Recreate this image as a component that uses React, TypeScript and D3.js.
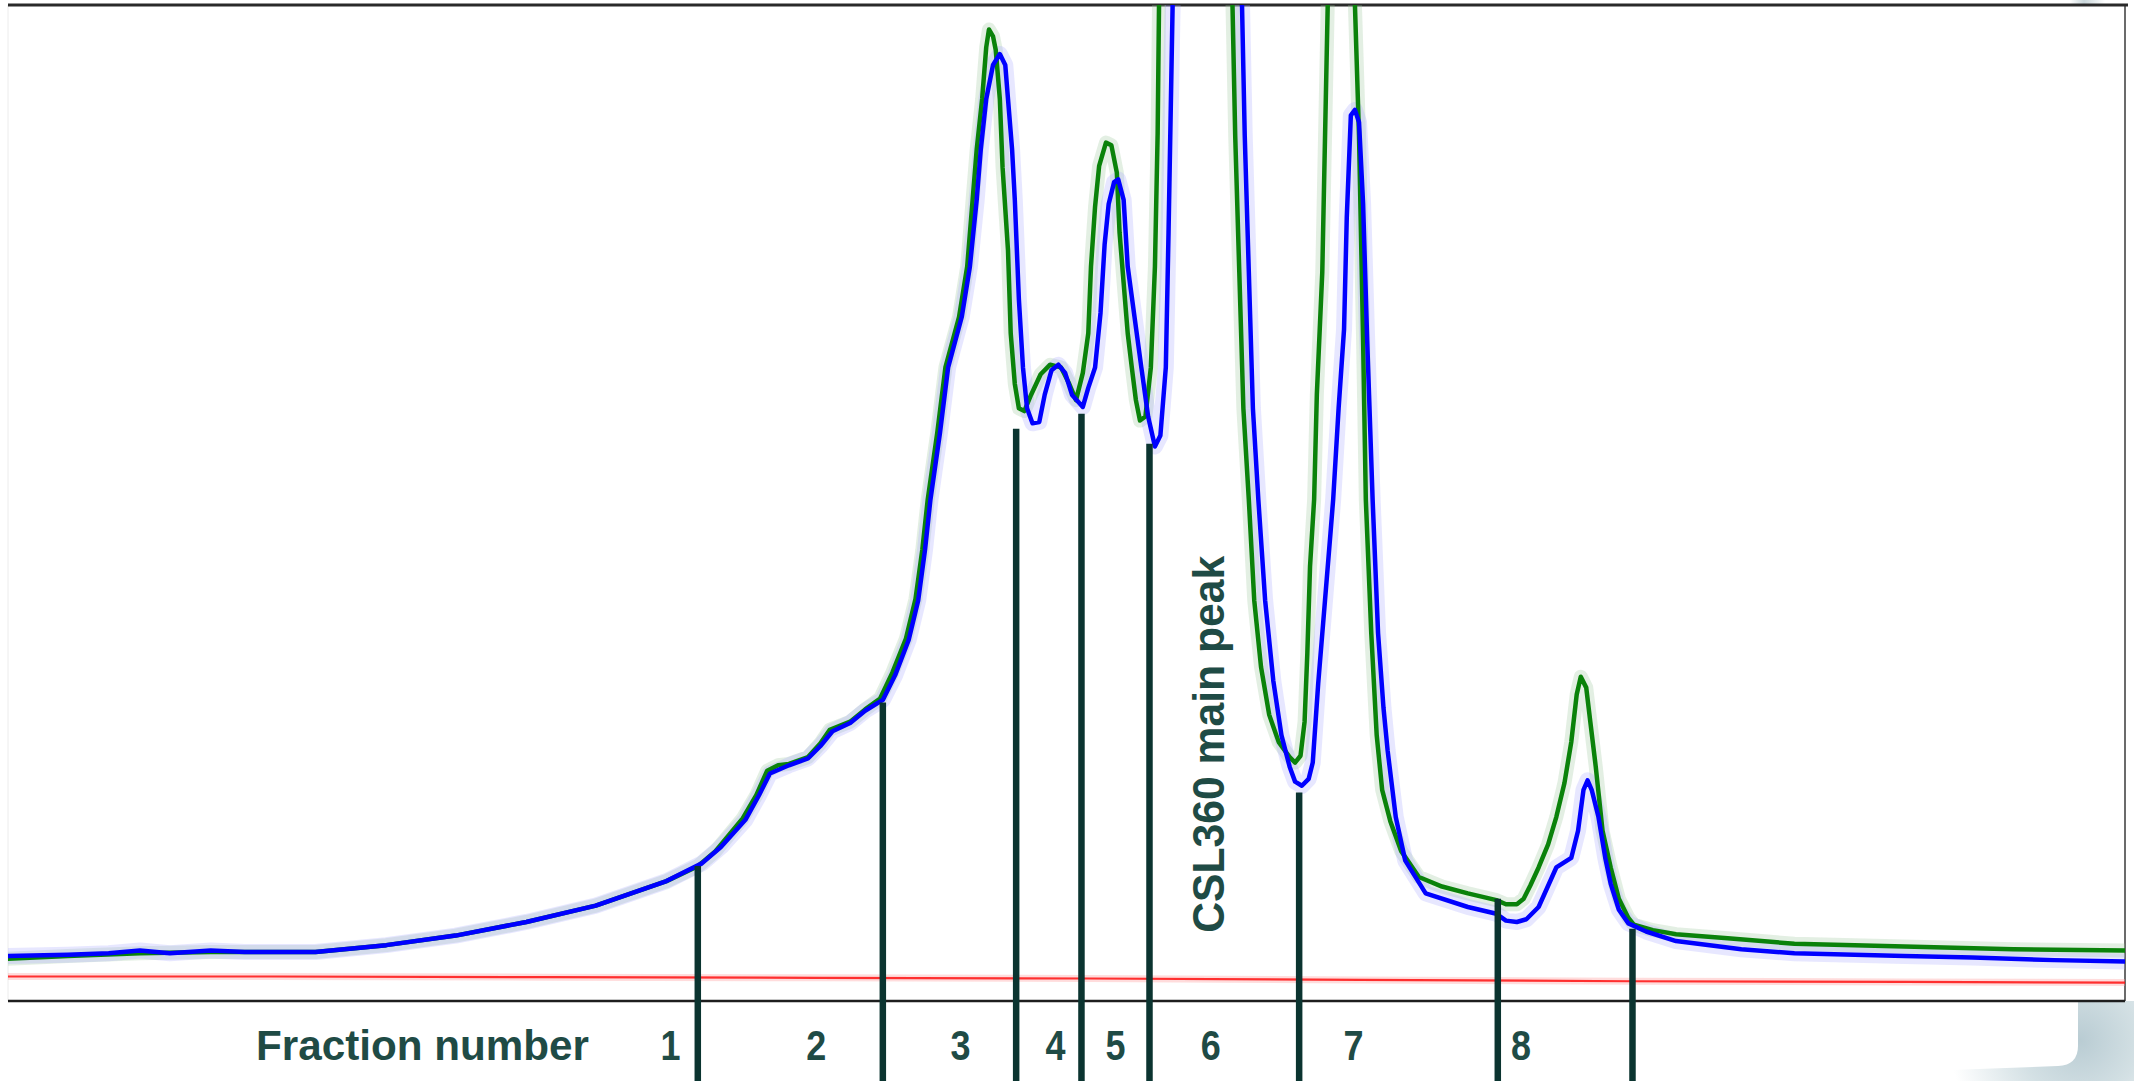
import * as d3 from "d3";
import React from "react";

// chromatogram traces, [elution time (arb. units), signal (arb. units)]
const greenTrace: [number, number][] = [
  [6, 31], [50, 33], [103, 35], [155, 36], [232, 36], [284, 41], [335, 48], [387, 58],
  [438, 70], [490, 88], [513, 99], [526, 110], [546, 134], [556, 151], [564, 169], [572, 173],
  [580, 174], [594, 179], [603, 189], [610, 199], [625, 205], [636, 214], [647, 222], [656, 241],
  [666, 266], [673, 295], [678, 331], [682, 368], [689, 417], [695, 465], [705, 502], [711, 539],
  [715, 588], [718, 625], [722, 662], [725, 700], [727, 713], [730, 708], [732, 698], [735, 662],
  [737, 612], [741, 551], [743, 490], [746, 453], [749, 435], [753, 433], [758, 445], [765, 460],
  [772, 467], [780, 465], [786, 453], [791, 441], [796, 461], [800, 490], [802, 539], [805, 583],
  [808, 613], [813, 630], [817, 628], [821, 608], [823, 564], [826, 527], [829, 490], [832, 465],
  [835, 441], [838, 426], [842, 429], [846, 465], [849, 539], [851, 637], [852, 731], [880, 1600],
  [906, 731], [908, 635], [911, 535], [914, 435], [918, 368], [922, 294], [927, 245], [933, 210],
  [940, 190], [948, 179], [952, 175], [956, 180], [959, 205], [961, 255], [963, 319], [966, 368],
  [968, 445], [972, 535], [976, 731], [987, 1100], [996, 731], [999, 635], [1002, 485], [1004, 368],
  [1008, 270], [1012, 195], [1016, 155], [1022, 132], [1030, 110], [1043, 91], [1060, 84], [1079, 79],
  [1100, 74], [1107, 71], [1115, 71], [1120, 75], [1125, 85], [1131, 98], [1138, 115], [1144, 135],
  [1150, 160], [1155, 190], [1159, 225], [1162, 238], [1166, 230], [1169, 205], [1173, 172], [1178, 125],
  [1184, 98], [1190, 75], [1197, 61], [1201, 56], [1215, 52], [1232, 49], [1270, 46], [1319, 42],
  [1400, 40], [1480, 38], [1562, 37],
];

const blueTrace: [number, number][] = [
  [6, 33], [50, 34], [80, 35], [103, 37], [125, 35], [155, 37], [180, 36], [232, 36],
  [284, 41], [335, 48], [387, 58], [438, 70], [490, 88], [516, 101], [530, 113], [548, 133],
  [558, 151], [566, 167], [580, 173], [594, 178], [603, 187], [612, 198], [625, 204], [636, 213],
  [649, 221], [658, 239], [668, 265], [675, 294], [680, 331], [684, 368], [691, 417], [697, 465],
  [707, 502], [713, 539], [718, 588], [721, 625], [725, 662], [730, 687], [735, 695], [739, 687],
  [741, 662], [744, 625], [746, 588], [749, 515], [752, 465], [755, 435], [759, 424], [764, 425],
  [768, 445], [773, 463], [778, 467], [783, 461], [788, 445], [796, 436], [800, 450], [805, 465],
  [809, 505], [812, 555], [815, 585], [819, 601], [822, 603], [826, 588], [829, 539], [834, 502],
  [839, 465], [844, 429], [849, 407], [853, 415], [857, 465], [859, 564], [862, 731], [888, 1600],
  [913, 731], [915, 635], [918, 535], [921, 435], [925, 368], [930, 294], [936, 235], [942, 195],
  [948, 172], [952, 161], [957, 158], [962, 163], [965, 175], [969, 233], [974, 294], [978, 343],
  [980, 368], [984, 435], [988, 493], [990, 575], [993, 650], [996, 654], [999, 645], [1002, 585],
  [1005, 485], [1009, 368], [1013, 270], [1017, 215], [1020, 184], [1026, 135], [1033, 103], [1048, 79],
  [1079, 69], [1100, 64], [1107, 59], [1115, 58], [1122, 60], [1131, 69], [1144, 98], [1155, 105],
  [1160, 125], [1164, 155], [1167, 162], [1170, 155], [1175, 135], [1180, 105], [1184, 86], [1190, 67],
  [1197, 57], [1210, 51], [1232, 44], [1280, 38], [1319, 35], [1400, 33], [1450, 32], [1510, 30],
  [1562, 29],
];

const redTrace: [number, number][] = [
  [6, 18], [200, 18], [400, 17.5], [600, 17], [800, 16.5], [1000, 15.5], [1200, 14.5], [1400, 14], [1562, 13.5],
];

// fraction cut points and the signal where each cut marker starts
const cutTimes = [513, 649, 747, 795, 845, 955, 1101, 1200];
const cutTops = [99, 219, 420, 431, 409, 153, 75, 53];

const fractionLabels = ["1", "2", "3", "4", "5", "6", "7", "8"];
const fractionLabelTimes = [493, 600, 706, 776, 820, 890, 995, 1118];

const peakNote = { text: "CSL360 main peak", time: 900, signal: 50 };

const W = 2134;
const H = 1081;
const plot = { left: 8, right: 2125, top: 5, bottom: 1001 };
const textColor = "#1f4b45";
const cutColor = "#0b3430";
const condensed = "'Liberation Sans Narrow', 'Arial Narrow', 'Liberation Sans', Arial, sans-serif";

export default function App() {
  const x = d3.scaleLinear().domain([6, 1562]).range([plot.left, plot.right]);
  const y = d3.scaleLinear().domain([0, 731]).range([plot.bottom, plot.top]);

  const line = d3
    .line<[number, number]>()
    .x(d => x(d[0]))
    .y(d => y(d[1]));

  return (
    <svg
      width={W}
      height={H}
      style={{ position: "absolute", left: 0, top: 0, background: "#fff" }}
    >
      <defs>
        <clipPath id="plotClip">
          <rect x={plot.left} y={plot.top} width={plot.right - plot.left} height={plot.bottom - plot.top} />
        </clipPath>
        <radialGradient id="shadow" cx="2080" cy="1040" r="130" gradientUnits="userSpaceOnUse">
          <stop offset="0" stopColor="#b9ccd3" />
          <stop offset="0.45" stopColor="#d3e0e4" />
          <stop offset="1" stopColor="#ffffff" />
        </radialGradient>
        <linearGradient id="topShadow" x1="0" x2="1" y1="0" y2="0">
          <stop offset="0" stopColor="#ffffff" />
          <stop offset="0.4" stopColor="#c9d6da" />
          <stop offset="1" stopColor="#ffffff" />
        </linearGradient>
      </defs>

      {/* page curl shadow under the bottom right corner */}
      <rect x={1900} y={plot.bottom} width={W - 1900} height={H - plot.bottom} fill="url(#shadow)" />
      <path
        d={`M${plot.left},${plot.bottom} H2078 V1046 Q2078,1065 2058,1066 L1950,1070 L1700,1081 H${plot.left} Z`}
        fill="#fff"
      />
      <rect x={2070} y={0} width={35} height={5} fill="url(#topShadow)" />

      {/* plot frame */}
      <line x1={plot.left} x2={plot.left} y1={plot.top} y2={plot.bottom} stroke="#ececec" strokeWidth={1} />
      <line x1={plot.right} x2={plot.right} y1={plot.top} y2={plot.bottom} stroke="#3a3a3a" strokeWidth={1.5} />
      <line x1={plot.left} x2={W - 6} y1={plot.top} y2={plot.top} stroke="#2a2a2a" strokeWidth={3} />

      <g clipPath="url(#plotClip)" fill="none" strokeLinejoin="round" strokeLinecap="round">
        <path d={line(redTrace) ?? ""} stroke="#ff9a9a" strokeWidth={7} opacity={0.35} />
        <path d={line(redTrace) ?? ""} stroke="#ff1010" strokeWidth={2.2} opacity={0.85} />
        <path d={line(greenTrace) ?? ""} stroke="#9cc59c" strokeWidth={14} opacity={0.28} />
        <path d={line(blueTrace) ?? ""} stroke="#a8a8ff" strokeWidth={16} opacity={0.28} />
        <path d={line(greenTrace) ?? ""} stroke="#0a820a" strokeWidth={4.5} />
        <path d={line(blueTrace) ?? ""} stroke="#0000ff" strokeWidth={4.5} />
      </g>

      <line x1={plot.left} x2={plot.right} y1={plot.bottom} y2={plot.bottom} stroke="#1e1e1e" strokeWidth={2.5} />

      {/* fraction cut markers */}
      {cutTimes.map((t, i) => (
        <line
          key={"cut" + i}
          x1={x(t)}
          x2={x(t)}
          y1={y(cutTops[i])}
          y2={H}
          stroke={cutColor}
          strokeWidth={6.5}
        />
      ))}

      <text
        x={589}
        y={1060}
        textAnchor="end"
        fill={textColor}
        fontFamily={condensed}
        fontWeight="bold"
        fontSize={42}
        textLength={333}
        lengthAdjust="spacingAndGlyphs"
      >
        Fraction number
      </text>
      {fractionLabels.map((lab, i) => (
        <text
          key={"lab" + i}
          x={x(fractionLabelTimes[i])}
          y={1060}
          textAnchor="middle"
          fill={textColor}
          fontFamily={condensed}
          fontWeight="bold"
          fontSize={42}
          textLength={20}
          lengthAdjust="spacingAndGlyphs"
        >
          {lab}
        </text>
      ))}

      <text
        transform={`translate(${x(peakNote.time)},${y(peakNote.signal)}) rotate(-90)`}
        fill={textColor}
        fontFamily="'Liberation Sans', Arial, sans-serif"
        fontWeight="bold"
        fontSize={45}
        textLength={377}
        lengthAdjust="spacingAndGlyphs"
      >
        {peakNote.text}
      </text>
    </svg>
  );
}
